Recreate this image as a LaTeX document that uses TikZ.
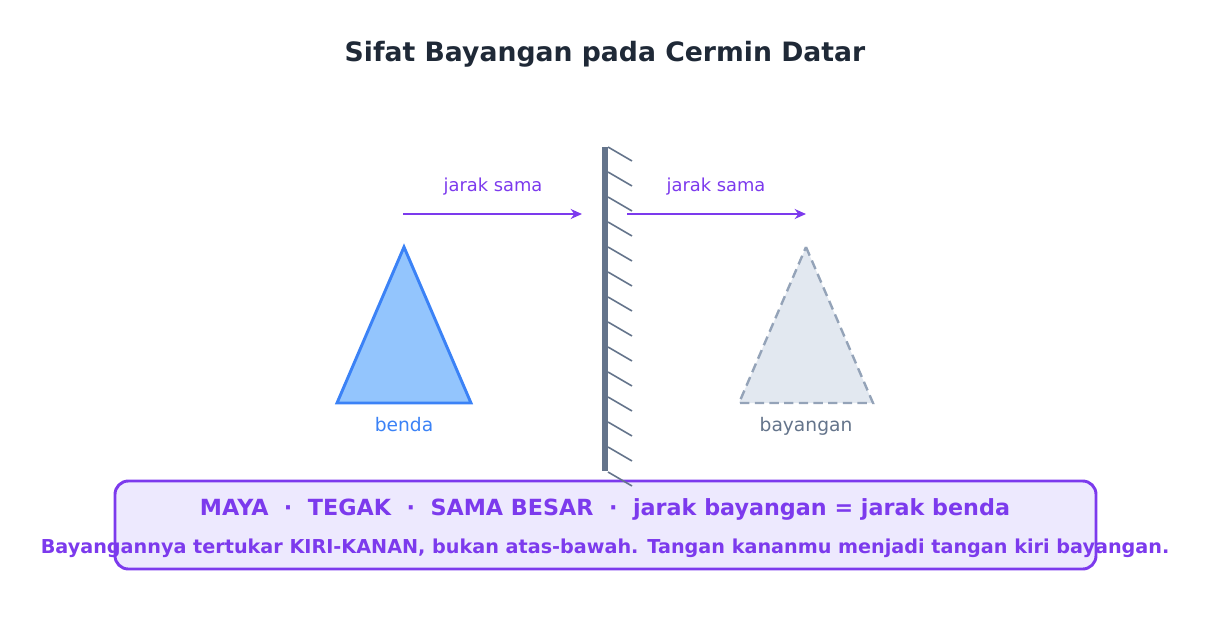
\documentclass[tikz,border=0pt]{standalone}
\usepackage{fontspec}
\setmainfont{DejaVu Sans}
\usepackage{tikz}
\usepackage{xcolor}
\usetikzlibrary{calc,arrows.meta}
\definecolor{title_col}{HTML}{1F2937}
\definecolor{mirror_col}{HTML}{64748B}
\definecolor{dist_col}{HTML}{7C3AED}
\definecolor{obj_fill}{HTML}{93C5FD}
\definecolor{obj_line}{HTML}{3B82F6}
\definecolor{img_fill}{HTML}{E2E8F0}
\definecolor{img_line}{HTML}{94A3B8}
\definecolor{note_fill}{HTML}{EDE9FE}
\tikzset{
    jarak_arrow/.style={-{Stealth[length=8.5pt,width=7.5pt]},line width=2.2pt,dist_col},
    hatch_line/.style={mirror_col,line width=1.2pt},
    obj_tri/.style={fill=obj_fill,draw=obj_line,line width=2.2pt,line join=miter},
    img_tri/.style={fill=img_fill,draw=img_line,line width=1.8pt,dash pattern=on 7pt off 4pt},
}

\begin{document}
\begin{tikzpicture}[x=0.75pt,y=-0.75pt]
  \useasboundingbox (0,0) rectangle (1210,629);
  \coordinate (M_top) at (605,147);
  \coordinate (M_bot) at (605,471);
  % Title
  \node[title_col,font=\bfseries\fontsize{20}{24}\selectfont] (title) at (605,54) {Sifat Bayangan pada Cermin Datar};
  % Summary box
  \node[draw=dist_col,fill=note_fill,line width=2.2pt,rounded corners=10pt,
        minimum width=981*0.75pt,minimum height=88*0.75pt] (note) at (605.5,525) {};
  \node[dist_col,font=\bfseries\fontsize{16.7}{20}\selectfont] (sifat) at (605,509)
    {MAYA\ \ ·\ \ TEGAK\ \ ·\ \ SAMA BESAR\ \ ·\ \ jarak bayangan = jarak benda};
  \node[dist_col,font=\bfseries\fontsize{14.4}{17}\selectfont] (catatan) at (605,548)
    {Bayangannya tertukar KIRI-KANAN, bukan atas-bawah. Tangan kananmu menjadi tangan kiri bayangan.};
  % Mirror and hatching
  \foreach \i in {0,...,13}
    \draw[hatch_line] ($(M_top)+(3,25*\i)$) -- ++(24,14);
  \draw[mirror_col,line width=4pt] (M_top) -- (M_bot);
  % Object
  \coordinate (A_top) at (404,247);
  \coordinate (A_l) at (337,403);
  \coordinate (A_r) at (471,403);
  \draw[obj_tri] (A_top) -- (A_r) -- (A_l) -- cycle;
  \node[obj_line,font=\fontsize{14}{16}\selectfont] (benda) at (404,425) {benda};
  % Image
  \coordinate (B_top) at (806,247);
  \coordinate (B_l) at (739,403);
  \coordinate (B_r) at (873,403);
  \draw[img_tri] (B_top) -- (B_r) -- (B_l) -- cycle;
  \node[mirror_col,font=\fontsize{14}{16}\selectfont] (bayangan) at (806,426) {bayangan};
  % Equal distances
  \coordinate (d1_s) at (403,214);
  \coordinate (d1_e) at (582,214);
  \coordinate (d2_s) at (627,214);
  \coordinate (d2_e) at (806,214);
  \draw[jarak_arrow] (d1_s) -- (d1_e);
  \draw[jarak_arrow] (d2_s) -- (d2_e);
  \node[dist_col,font=\fontsize{13.4}{16}\selectfont] (jarak1) at (493,187) {jarak sama};
  \node[dist_col,font=\fontsize{13.4}{16}\selectfont] (jarak2) at (716,187) {jarak sama};
\end{tikzpicture}
\end{document}
